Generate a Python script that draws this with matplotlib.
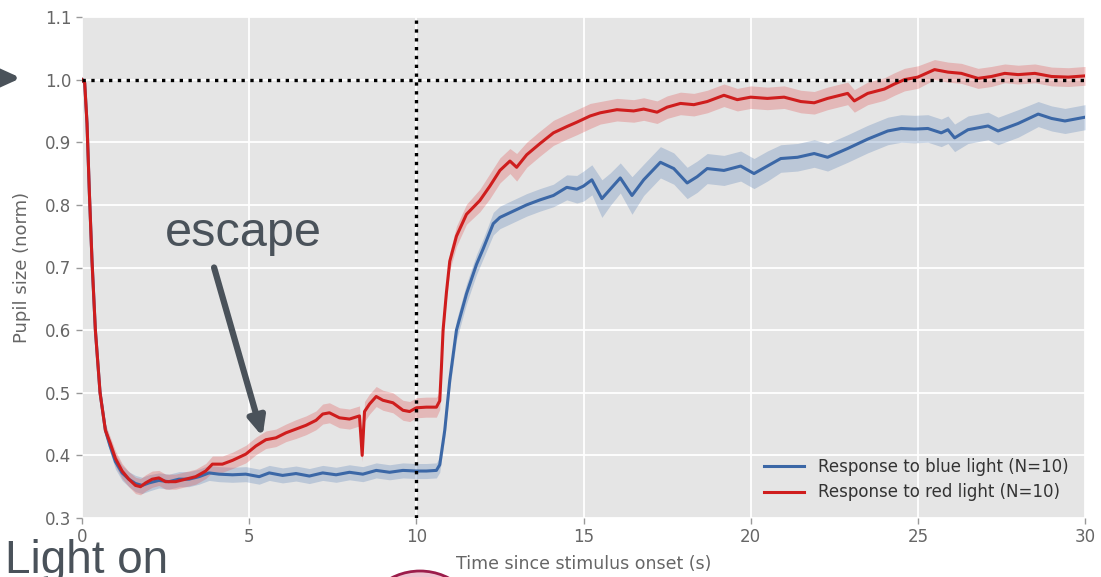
import matplotlib.pyplot as plt
import numpy as np
from matplotlib.patches import Ellipse

plt.rcParams['font.family'] = ['DejaVu Sans']

# mean pupil size (normalised) and error band, blue light
t_blue = np.array([0.0, 0.08, 0.15, 0.22, 0.30, 0.40, 0.54, 0.70, 0.84, 1.00,
                   1.20, 1.40, 1.60, 1.80, 2.00, 2.30, 2.60, 2.90, 3.20, 3.50,
                   3.80, 4.10, 4.50, 4.90, 5.30, 5.60, 6.00, 6.40, 6.80, 7.20,
                   7.60, 8.00, 8.40, 8.80, 9.20, 9.60, 10.00, 10.30, 10.60, 10.70,
                   10.85, 11.00, 11.20, 11.50, 11.80, 12.00, 12.30, 12.50, 12.90, 13.30,
                   13.70, 14.10, 14.50, 14.80, 15.00, 15.25, 15.55, 15.80, 16.10, 16.45,
                   16.80, 17.30, 17.70, 18.10, 18.40, 18.70, 19.20, 19.70, 20.10, 20.50,
                   20.90, 21.40, 21.90, 22.30, 22.90, 23.50, 24.10, 24.50, 24.90, 25.30,
                   25.70, 25.90, 26.10, 26.50, 27.10, 27.40, 28.00, 28.60, 29.00, 29.40,
                   30.00])
blue_mean = np.array([1.000, 0.995, 0.930, 0.820, 0.710, 0.600, 0.500, 0.440, 0.415, 0.390,
                      0.372, 0.362, 0.355, 0.352, 0.356, 0.360, 0.358, 0.362, 0.362, 0.366,
                      0.372, 0.370, 0.369, 0.370, 0.366, 0.372, 0.368, 0.371, 0.367, 0.372,
                      0.369, 0.373, 0.370, 0.376, 0.373, 0.376, 0.375, 0.375, 0.376, 0.385,
                      0.440, 0.520, 0.600, 0.658, 0.705, 0.730, 0.770, 0.780, 0.790, 0.800,
                      0.808, 0.815, 0.828, 0.825, 0.830, 0.840, 0.810, 0.825, 0.843, 0.815,
                      0.840, 0.868, 0.858, 0.835, 0.845, 0.858, 0.855, 0.862, 0.850, 0.862,
                      0.874, 0.876, 0.882, 0.876, 0.890, 0.905, 0.918, 0.922, 0.921, 0.922,
                      0.915, 0.920, 0.907, 0.920, 0.926, 0.918, 0.930, 0.945, 0.938, 0.934,
                      0.940])
blue_sem = np.array([0.004, 0.006, 0.008, 0.010, 0.010, 0.010, 0.010, 0.010, 0.010, 0.012,
                     0.012, 0.012, 0.013, 0.013, 0.013, 0.012, 0.012, 0.012, 0.012, 0.012,
                     0.012, 0.012, 0.012, 0.012, 0.012, 0.012, 0.012, 0.012, 0.012, 0.012,
                     0.012, 0.012, 0.012, 0.012, 0.012, 0.012, 0.012, 0.012, 0.012, 0.012,
                     0.012, 0.014, 0.016, 0.016, 0.016, 0.016, 0.018, 0.018, 0.018, 0.018,
                     0.018, 0.018, 0.020, 0.022, 0.024, 0.024, 0.030, 0.026, 0.024, 0.030,
                     0.025, 0.025, 0.025, 0.025, 0.025, 0.024, 0.024, 0.024, 0.024, 0.024,
                     0.022, 0.022, 0.022, 0.022, 0.022, 0.022, 0.022, 0.022, 0.022, 0.022,
                     0.022, 0.022, 0.022, 0.022, 0.022, 0.022, 0.022, 0.020, 0.020, 0.020,
                     0.020])

# mean pupil size (normalised) and error band, red light
t_red = np.array([0.0, 0.08, 0.15, 0.22, 0.30, 0.40, 0.54, 0.70, 0.84, 1.00,
                  1.20, 1.40, 1.60, 1.75, 1.90, 2.10, 2.30, 2.50, 2.80, 3.10,
                  3.40, 3.70, 3.90, 4.20, 4.50, 4.90, 5.20, 5.50, 5.80, 6.10,
                  6.40, 6.70, 7.00, 7.20, 7.40, 7.70, 8.00, 8.30, 8.38, 8.45,
                  8.60, 8.80, 9.00, 9.30, 9.60, 9.80, 10.00, 10.30, 10.60, 10.70,
                  10.75, 10.80, 10.90, 11.00, 11.20, 11.50, 11.90, 12.20, 12.50, 12.80,
                  13.00, 13.30, 13.70, 14.10, 14.50, 14.80, 15.20, 15.50, 16.00, 16.50,
                  16.80, 17.20, 17.50, 17.90, 18.30, 18.70, 19.20, 19.60, 20.00, 20.50,
                  21.00, 21.50, 21.90, 22.30, 22.90, 23.10, 23.50, 24.00, 24.30, 24.60,
                  25.00, 25.50, 25.90, 26.30, 26.80, 27.20, 27.60, 28.00, 28.50, 29.00,
                  29.50, 30.00])
red_mean = np.array([1.000, 0.995, 0.930, 0.820, 0.710, 0.600, 0.500, 0.440, 0.420, 0.395,
                     0.375, 0.362, 0.352, 0.350, 0.356, 0.362, 0.364, 0.358, 0.358, 0.362,
                     0.366, 0.375, 0.386, 0.386, 0.392, 0.402, 0.415, 0.425, 0.428, 0.436,
                     0.442, 0.448, 0.456, 0.466, 0.468, 0.460, 0.458, 0.463, 0.400, 0.470,
                     0.482, 0.494, 0.488, 0.484, 0.472, 0.470, 0.476, 0.477, 0.477, 0.487,
                     0.540, 0.600, 0.660, 0.710, 0.750, 0.785, 0.807, 0.830, 0.855, 0.870,
                     0.860, 0.880, 0.898, 0.915, 0.925, 0.932, 0.942, 0.947, 0.952, 0.950,
                     0.953, 0.948, 0.956, 0.962, 0.960, 0.965, 0.975, 0.968, 0.972, 0.970,
                     0.972, 0.965, 0.963, 0.970, 0.978, 0.966, 0.978, 0.985, 0.993, 1.000,
                     1.004, 1.016, 1.012, 1.010, 1.002, 1.005, 1.010, 1.008, 1.010, 1.005,
                     1.004, 1.006])
red_sem = np.array([0.004, 0.006, 0.008, 0.010, 0.010, 0.010, 0.010, 0.010, 0.010, 0.012,
                    0.012, 0.012, 0.013, 0.013, 0.013, 0.013, 0.012, 0.012, 0.012, 0.012,
                    0.012, 0.012, 0.013, 0.013, 0.013, 0.014, 0.014, 0.014, 0.014, 0.014,
                    0.015, 0.015, 0.015, 0.016, 0.016, 0.016, 0.016, 0.016, 0.010, 0.016,
                    0.016, 0.016, 0.016, 0.016, 0.016, 0.016, 0.016, 0.016, 0.016, 0.014,
                    0.012, 0.012, 0.012, 0.014, 0.016, 0.016, 0.018, 0.020, 0.020, 0.020,
                    0.022, 0.020, 0.020, 0.020, 0.020, 0.020, 0.020, 0.018, 0.018, 0.018,
                    0.018, 0.018, 0.018, 0.018, 0.018, 0.018, 0.018, 0.018, 0.018, 0.018,
                    0.018, 0.018, 0.018, 0.018, 0.018, 0.018, 0.018, 0.018, 0.018, 0.018,
                    0.018, 0.016, 0.016, 0.016, 0.016, 0.016, 0.015, 0.015, 0.015, 0.015,
                    0.015, 0.015])

x_ticks = [0, 5, 10, 15, 20, 25, 30]
y_ticks = [0.3, 0.4, 0.5, 0.6, 0.7, 0.8, 0.9, 1.0, 1.1]

blue = '#3b67a6'
red = '#cf1d1d'
slate = '#4a525a'

fig = plt.figure(figsize=(11.01, 5.77), dpi=100)
ax = fig.add_axes([82 / 1101, 1 - 518 / 577, 1003 / 1101, 501 / 577])
ax.set_facecolor('#e5e5e5')
for s in ax.spines.values():
    s.set_visible(False)
ax.grid(True, color='white', linewidth=1.3)
ax.set_axisbelow(True)

# error bands and means
ax.fill_between(t_blue, blue_mean - blue_sem, blue_mean + blue_sem,
                color='#5a82b8', alpha=0.3, linewidth=0)
ax.fill_between(t_red, red_mean - red_sem, red_mean + red_sem,
                color='#e05050', alpha=0.3, linewidth=0)
ax.plot(t_blue, blue_mean, color=blue, linewidth=2.2,
        label='Response to blue light (N=10)')
ax.plot(t_red, red_mean, color=red, linewidth=2.2,
        label='Response to red light (N=10)')

# baseline and light-off marker
ax.axhline(1.0, color='black', linestyle=':', linewidth=2.4)
ax.axvline(10, color='black', linestyle=':', linewidth=2.4)

ax.set_xlim(0, 30)
ax.set_ylim(0.3, 1.1)
ax.set_xticks(x_ticks)
ax.set_yticks(y_ticks)
ax.set_yticklabels([f'{v:.1f}' for v in y_ticks])
ax.tick_params(colors='#666666', labelsize=12, length=4, width=1, color='#999999')
ax.set_xlabel('Time since stimulus onset (s)', fontsize=12.5, color='#666666', labelpad=6)
ax.set_ylabel('Pupil size (norm)', fontsize=13, color='#666666', labelpad=10)

leg = ax.legend(loc='lower right', frameon=False, fontsize=12,
                handlelength=2.4, handletextpad=0.8, borderaxespad=0.6,
                labelspacing=0.45)
for txt in leg.get_texts():
    txt.set_color('#333333')

# annotations
ax.text(4.82, 0.735, 'escape', fontsize=35, color=slate, family='Liberation Sans',
        ha='center', va='baseline')
ax.annotate('', xy=(5.4, 0.43), xytext=(3.95, 0.70),
            arrowprops=dict(arrowstyle='-|>,head_length=1.1,head_width=0.5',
                            color=slate, linewidth=4.5, shrinkA=0, shrinkB=0))
ax.annotate('', xy=(21, 577 - 78), xycoords='figure pixels',
            xytext=(-10, 577 - 78), textcoords='figure pixels',
            arrowprops=dict(arrowstyle='-|>,head_length=1.1,head_width=0.5',
                            color=slate, linewidth=4.5, shrinkA=0, shrinkB=0),
            annotation_clip=False)
fig.text(5 / 1101, 4 / 577, 'Light on', fontsize=33, color=slate,
         family='Liberation Sans', ha='left', va='baseline')
fig.add_artist(Ellipse((420 / 1101, 1 - 633 / 577), 124 / 1101, 124 / 577,
                       transform=fig.transFigure, facecolor='#efc3d0',
                       edgecolor='#9c1d4b', linewidth=2))

fig.savefig('out.png', dpi=100)
